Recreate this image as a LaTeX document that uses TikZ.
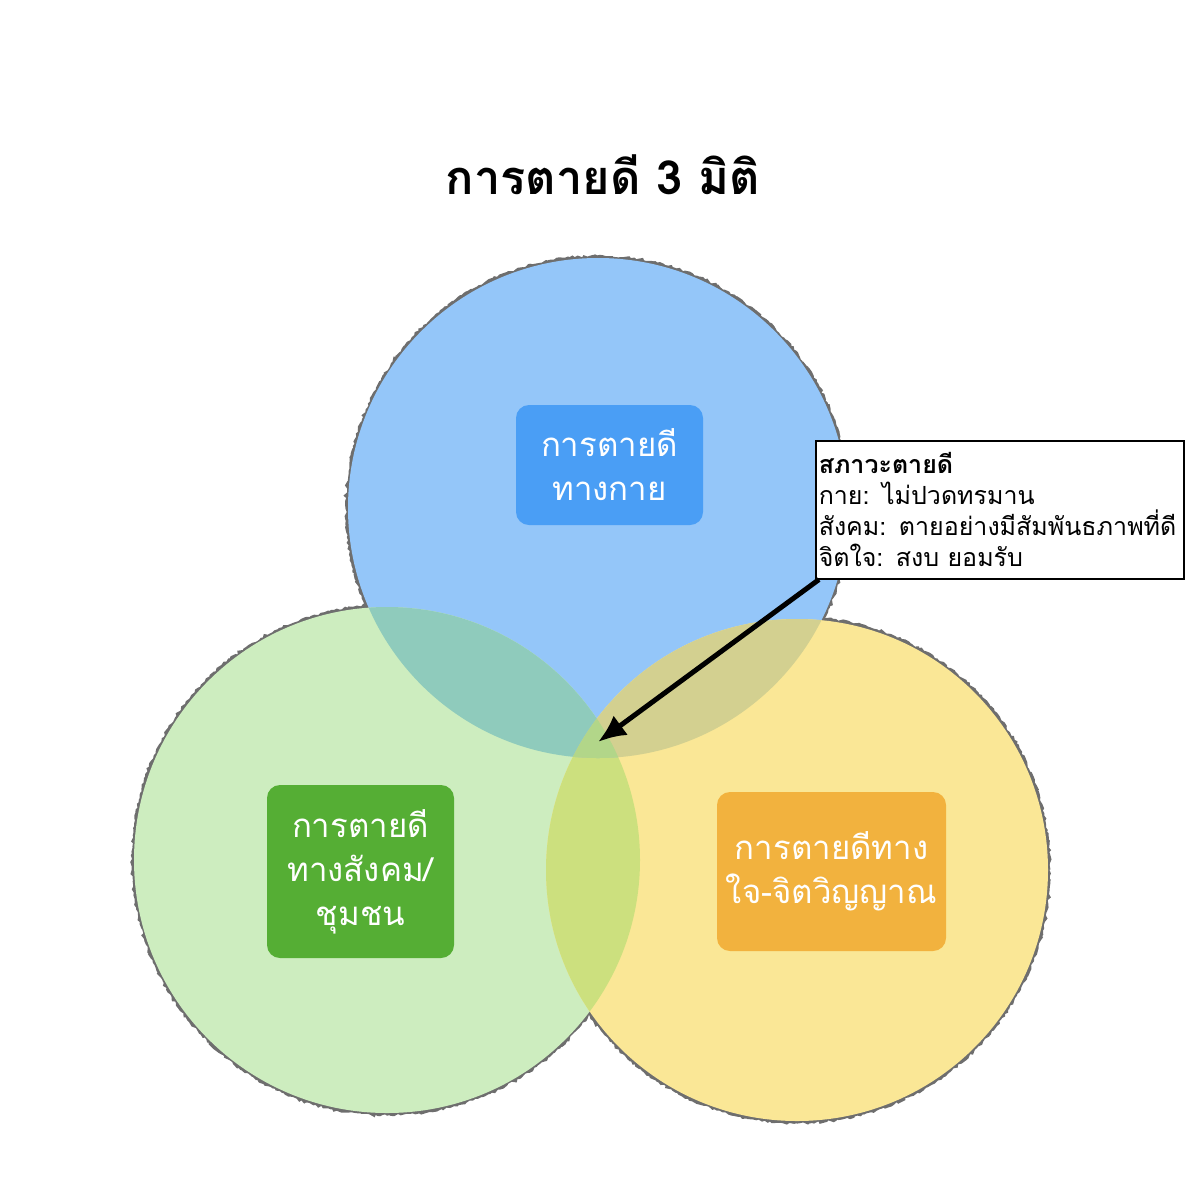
\documentclass[tikz,border=0pt]{standalone}
\usepackage{fontspec}
\newfontfamily\thaifont[Script=Thai]{Loma}
\usetikzlibrary{arrows.meta,positioning,decorations.pathmorphing}
\definecolor{ringgray}{HTML}{6E6E6E}
\definecolor{bodylight}{HTML}{94C6F9}
\definecolor{sociallight}{HTML}{CDEDBF}
\definecolor{mindlight}{HTML}{FAE796}
\definecolor{bodysocial}{HTML}{8FCBBC}
\definecolor{bodymind}{HTML}{D3D090}
\definecolor{socialmind}{HTML}{CCE07E}
\definecolor{allthree}{HTML}{B2D689}
\definecolor{bodybox}{HTML}{4A9EF5}
\definecolor{socialbox}{HTML}{55AE34}
\definecolor{mindbox}{HTML}{F2B23E}
\tikzset{%
	ring/.style    = {draw=ringgray, line width=5pt, decorate, decoration={random steps, segment length=2.5pt, amplitude=1.2pt}},
	dimbox/.style  = {rounded corners=13pt, text=white, align=center, inner sep=0pt, font=\thaifont\fontsize{33}{44}\selectfont},
	notebox/.style = {draw, line width=1.5pt, fill=white, anchor=north west, align=left, inner sep=3pt, text width=362pt, font=\thaifont\fontsize{25}{31}\selectfont},
	pointer/.style = {line width=5pt, -{Latex[length=28pt,width=24pt]}},
}
\begin{document}
\begin{tikzpicture}[x=1pt,y=-1pt]
	\useasboundingbox (0,0) rectangle (1192,1200);
	\coordinate (cbody) at (598,508);
	\coordinate (csocial) at (387,860);
	\coordinate (cmind) at (797,870);
	\coordinate (core) at (598,742);
	% outlines first, the fills hide the inner parts
	\draw[ring] (cbody) circle (250pt);
	\draw[ring] (csocial) circle (253pt);
	\draw[ring] (cmind) circle (251pt);
	\fill[bodylight] (cbody) circle (250pt);
	\fill[sociallight] (csocial) circle (253pt);
	\fill[mindlight] (cmind) circle (251pt);
	\begin{scope}
		\clip (csocial) circle (253pt);
		\fill[socialmind] (cmind) circle (251pt);
	\end{scope}
	\begin{scope}
		\clip (cbody) circle (250pt);
		\fill[bodysocial] (csocial) circle (253pt);
		\fill[bodymind] (cmind) circle (251pt);
		\clip (csocial) circle (253pt);
		\fill[allthree] (cmind) circle (251pt);
	\end{scope}
	\node (title) at (603,175) {\thaifont\fontsize{47}{52}\selectfont\bfseries การตายดี 3 มิติ};
	\node[dimbox, fill=bodybox, minimum width=187pt, minimum height=120pt] (body) at (609.5,465) {การตายดี\\ทางกาย};
	\node[dimbox, fill=socialbox, minimum width=187pt, minimum height=173pt] (social) at (360.5,871.5) {การตายดี\\ทางสังคม/\\ชุมชน};
	\node[dimbox, fill=mindbox, minimum width=229pt, minimum height=159pt] (mind) at (831.5,871.5) {การตายดีทาง\\ใจ-จิตวิญญาณ};
	\node[notebox, minimum height=138pt] (note) at (815,440) {\textbf{สภาวะตายดี}\\กาย: ไม่ปวดทรมาน\\สังคม: ตายอย่างมีสัมพันธภาพที่ดี\\จิตใจ: สงบ ยอมรับ};
	\draw[pointer] ([xshift=4pt]note.south west) -- (core);
\end{tikzpicture}
\end{document}
